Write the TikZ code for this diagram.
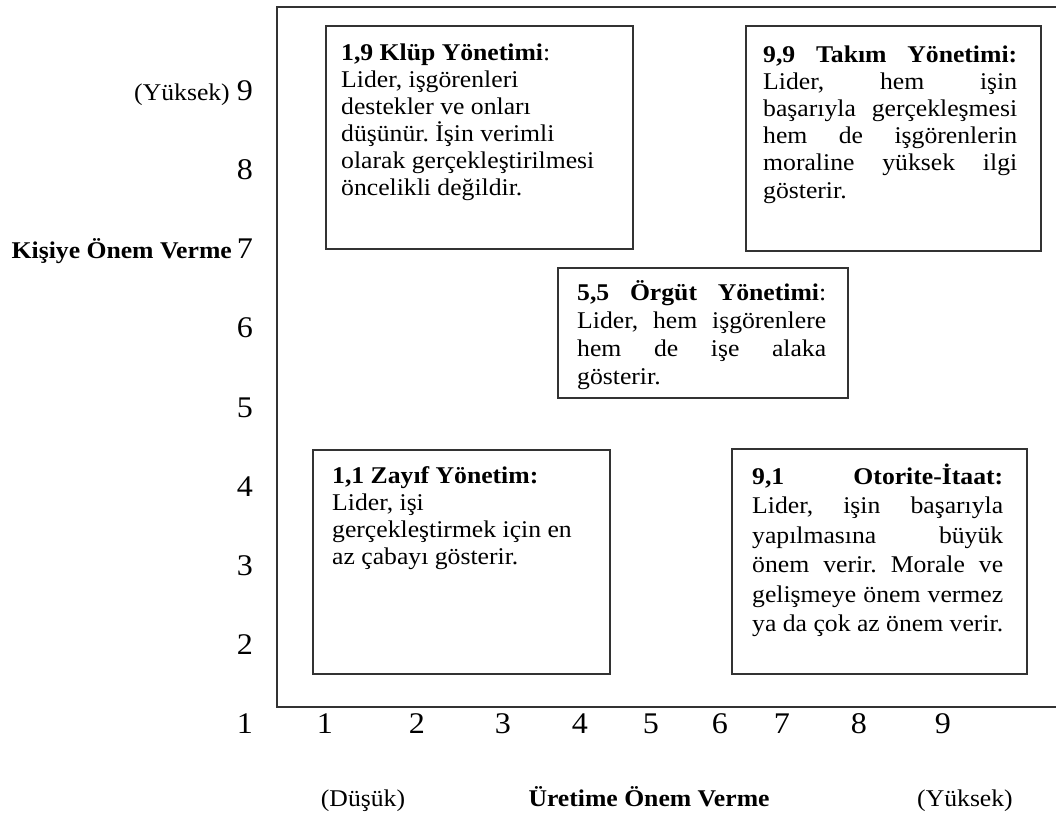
\documentclass[tikz,border=0pt]{standalone}
\usepackage{fontspec}
\setmainfont{Liberation Serif}[FakeStretch=1.07]
\frenchspacing
% one justified line, spaces stretched to the full width of the box text
\newcommand\jline[1]{\makebox[\linewidth][s]{#1}}
\newcommand\boxfont{\fontsize{24}{27}\selectfont}
\begin{document}
\begin{tikzpicture}[x=1pt,y=-1pt,
  frame/.style={draw=black!80, line width=1.8pt},
  gridbox/.style={draw=black!80, line width=1.8pt, anchor=north west, inner sep=0pt},
  boxtext/.style={anchor=base west, inner sep=0pt, text=black},
  num/.style={inner sep=0pt, anchor=base, text=black, font=\fontsize{30}{30}\selectfont},
  lbl/.style={inner sep=0pt, anchor=base, text=black, font=\boxfont}]

\path[use as bounding box] (0,0) rectangle (1056,816);

% axes frame (its right side runs past the page edge)
\draw[frame] (277,7) rectangle (1070,707);

% vertical scale
\foreach \k/\yy in {1/733,2/654,3/575,4/496,5/417,6/337,7/258,8/179,9/100}
  \node[num, anchor=base east] (y\k) at (253,\yy) {\k};
\node[lbl, anchor=base east] (yhigh) at (230,100) {(Yüksek)};
\node[lbl, anchor=base east, font=\boxfont\bfseries] (yaxis) at (232,258) {Kişiye Önem Verme};

% horizontal scale
\foreach \k/\xx in {1/325,2/417,3/503,4/580,5/651,6/720,7/782,8/859,9/943}
  \node[num] (x\k) at (\xx,733) {\k};
\node[lbl] (xlow) at (363,806) {(Düşük)};
\node[lbl, font=\boxfont\bfseries] (xaxis) at (649,806) {Üretime Önem Verme};
\node[lbl] (xhigh) at (965,806) {(Yüksek)};

% 1,9
\node[gridbox, minimum width=307pt, minimum height=223pt] (club) at (325,25) {};
\node[boxtext] (clubtext) at (341,60) {\parbox[t]{270pt}{\boxfont\raggedright
  \textbf{1,9 Klüp Yönetimi}:\\
  Lider, işgörenleri\\
  destekler ve onları\\
  düşünür. İşin verimli\\
  olarak gerçekleştirilmesi\\
  öncelikli değildir.}};

% 9,9
\node[gridbox, minimum width=295pt, minimum height=225pt] (team) at (745,25) {};
\node[boxtext] (teamtext) at (763,63) {\parbox[t]{254pt}{\boxfont\raggedright
  \jline{\textbf{9,9 Takım Yönetimi:}}\\
  \jline{Lider, hem işin}\\
  \jline{başarıyla gerçekleşmesi}\\
  \jline{hem de işgörenlerin}\\
  \jline{moraline yüksek ilgi}\\
  gösterir.}};

% 5,5
\node[gridbox, minimum width=290pt, minimum height=130pt] (middle) at (557,267) {};
\node[boxtext] (middletext) at (577,300) {\parbox[t]{249pt}{\fontsize{24}{28}\selectfont\raggedright
  \jline{\textbf{5,5 Örgüt Yönetimi}:}\\
  \jline{Lider, hem işgörenlere}\\
  \jline{hem de işe alaka}\\
  gösterir.}};

% 1,1
\node[gridbox, minimum width=297pt, minimum height=224pt] (poor) at (312,449) {};
\node[boxtext] (poortext) at (332,483) {\parbox[t]{260pt}{\boxfont\raggedright
  \textbf{1,1 Zayıf Yönetim:}\\
  Lider, işi\\
  gerçekleştirmek için en\\
  az çabayı gösterir.}};

% 9,1
\node[gridbox, minimum width=295pt, minimum height=225pt] (task) at (731,448) {};
\node[boxtext] (tasktext) at (752,484) {\parbox[t]{251pt}{\fontsize{24}{29.5}\selectfont\raggedright
  \jline{\textbf{9,1 Otorite-İtaat:}}\\
  \jline{Lider, işin başarıyla}\\
  \jline{yapılmasına büyük}\\
  \jline{önem verir. Morale ve}\\
  \jline{gelişmeye önem vermez}\\
  ya da çok az önem verir.}};

\end{tikzpicture}
\end{document}
